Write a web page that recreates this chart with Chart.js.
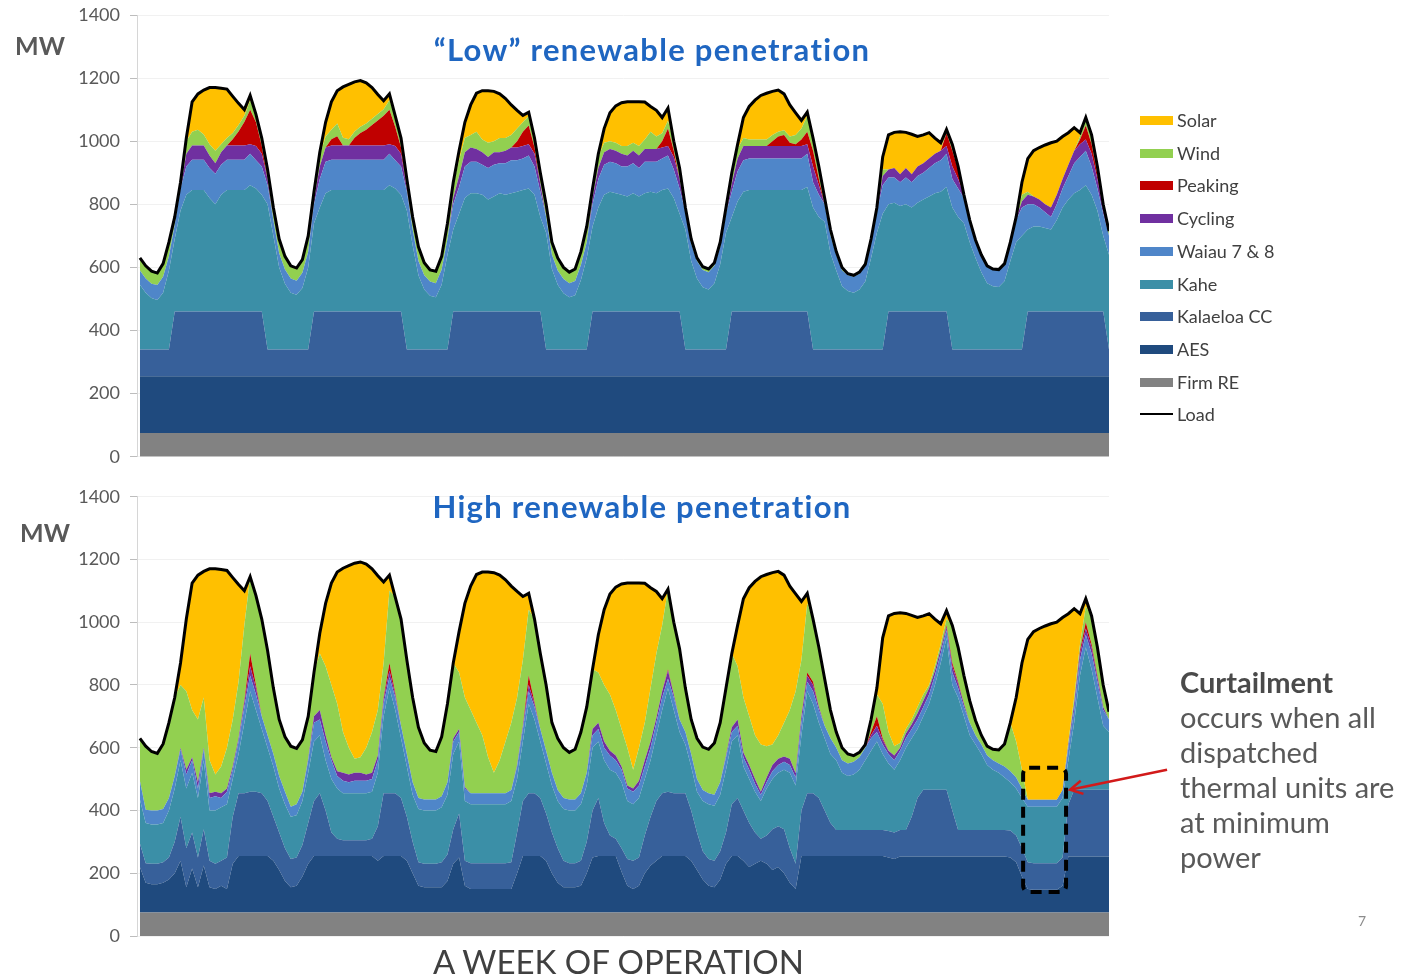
<!DOCTYPE html>
<html><head><meta charset="utf-8">
<script src="https://cdn.jsdelivr.net/npm/chart.js@4.4.1/dist/chart.umd.min.js"></script>
<style>
body{margin:0;background:#fff;}
#page{position:relative;width:1405px;height:977px;overflow:hidden;background:#fff;font-family:Lato,'Open Sans',sans-serif;}
canvas{position:absolute;left:0;}
.t{position:absolute;white-space:nowrap;line-height:1;}
.mw{font-size:25px;color:#595959;font-weight:700;}
.title{font-size:31px;letter-spacing:1.3px;font-weight:700;color:#1f66c1;transform:translateX(-50%);}
.lg{position:absolute;left:1140px;font-size:18px;color:#404040;line-height:20px;height:20px;white-space:nowrap;}
.lg i{position:absolute;left:0;top:6px;width:33px;height:9px;}
.lg span{position:absolute;left:37px;top:0;white-space:nowrap;}
</style></head><body>
<div id="page">
<canvas id="lowChart" width="1405" height="502" style="top:-15px"></canvas>
<canvas id="highChart" width="1405" height="500" style="top:466px"></canvas>
<div class="t mw" style="left:15px;top:33px">MW</div>
<div class="t mw" style="left:20px;top:520px">MW</div>
<div class="t title" style="left:652px;top:34px">“Low” renewable penetration</div>
<div class="t title" style="left:642px;top:491px">High renewable penetration</div>
<div id="legend"></div>
<div class="t" style="left:1180px;top:664px;font-size:29px;line-height:35px;color:#595959"><b style="color:#4a4a4a">Curtailment</b><br>occurs when all<br>dispatched<br>thermal units are<br>at minimum<br>power</div>
<div class="t" style="left:433px;top:945px;font-size:33px;color:#404040">A WEEK OF OPERATION</div>
<div class="t" style="left:1358px;top:914px;font-size:14px;color:#8c8c8c">7</div>
</div>
<script>
// hourly index for one week (categories)
const HOURS = Array.from({length: 168}, (_, i) => i);

const LOAD = [
630,605,588,582,612,680,760,870,1010,1125,1150,1162,1170,1170,1168,1165,1142,1120,1100,1145,1085,1010,910,790,
690,635,605,598,625,700,840,965,1060,1125,1160,1172,1180,1188,1192,1185,1170,1148,1128,1150,1080,1010,880,760,
665,615,592,588,635,740,870,970,1060,1115,1152,1160,1160,1158,1150,1135,1115,1098,1082,1092,1010,900,800,680,
630,600,585,595,650,730,850,960,1040,1090,1112,1122,1125,1125,1125,1124,1110,1098,1075,1105,1000,915,790,690,
630,602,595,615,680,790,900,990,1075,1110,1130,1145,1152,1158,1162,1150,1115,1090,1066,1092,1010,920,820,720,
650,600,580,575,585,610,690,790,950,1020,1028,1030,1028,1022,1015,1020,1027,1010,995,1037,990,920,830,750,
687,640,605,595,593,612,680,760,870,945,970,980,988,995,1000,1015,1027,1043,1027,1075,1020,920,800,715];

// ---------- "Low" renewable penetration ----------
const LOW_FIRM_RE = [
75,75,75,75,75,75,75,75,75,75,75,75,75,75,75,75,75,75,75,75,75,75,75,75,
75,75,75,75,75,75,75,75,75,75,75,75,75,75,75,75,75,75,75,75,75,75,75,75,
75,75,75,75,75,75,75,75,75,75,75,75,75,75,75,75,75,75,75,75,75,75,75,75,
75,75,75,75,75,75,75,75,75,75,75,75,75,75,75,75,75,75,75,75,75,75,75,75,
75,75,75,75,75,75,75,75,75,75,75,75,75,75,75,75,75,75,75,75,75,75,75,75,
75,75,75,75,75,75,75,75,75,75,75,75,75,75,75,75,75,75,75,75,75,75,75,75,
75,75,75,75,75,75,75,75,75,75,75,75,75,75,75,75,75,75,75,75,75,75,75,75];
const LOW_AES = [
180,180,180,180,180,180,180,180,180,180,180,180,180,180,180,180,180,180,180,180,180,180,180,180,
180,180,180,180,180,180,180,180,180,180,180,180,180,180,180,180,180,180,180,180,180,180,180,180,
180,180,180,180,180,180,180,180,180,180,180,180,180,180,180,180,180,180,180,180,180,180,180,180,
180,180,180,180,180,180,180,180,180,180,180,180,180,180,180,180,180,180,180,180,180,180,180,180,
180,180,180,180,180,180,180,180,180,180,180,180,180,180,180,180,180,180,180,180,180,180,180,180,
180,180,180,180,180,180,180,180,180,180,180,180,180,180,180,180,180,180,180,180,180,180,180,180,
180,180,180,180,180,180,180,180,180,180,180,180,180,180,180,180,180,180,180,180,180,180,180,180];
const LOW_KALAELOA = [
85,85,85,85,85,85,205,205,205,205,205,205,205,205,205,205,205,205,205,205,205,205,85,85,
85,85,85,85,85,85,205,205,205,205,205,205,205,205,205,205,205,205,205,205,205,205,85,85,
85,85,85,85,85,85,205,205,205,205,205,205,205,205,205,205,205,205,205,205,205,205,85,85,
85,85,85,85,85,85,205,205,205,205,205,205,205,205,205,205,205,205,205,205,205,205,85,85,
85,85,85,85,85,85,205,205,205,205,205,205,205,205,205,205,205,205,205,205,85,85,85,85,
85,85,85,85,85,85,85,85,85,205,205,205,205,205,205,205,205,205,205,205,85,85,85,85,
85,85,85,85,85,85,85,85,85,205,205,205,205,205,205,205,205,205,205,205,205,205,205,85];
const LOW_KAHE = [
205,180,163,157,180,250,230,320,370,385,385,385,360,340,370,385,385,385,385,400,390,370,460,360,
260,208,180,173,195,260,280,330,375,385,385,385,385,385,385,385,385,385,385,400,390,370,440,330,
235,190,170,165,205,300,260,310,360,375,375,370,355,365,375,370,375,380,385,390,370,300,370,255,
205,178,165,172,220,290,270,330,370,380,375,370,365,375,365,375,380,375,385,390,360,310,380,280,
225,197,190,210,270,370,300,350,380,385,385,385,385,385,385,385,385,385,385,395,450,420,405,305,
250,200,185,180,190,215,290,370,430,340,345,335,340,330,345,355,365,375,380,395,450,420,400,340,
290,245,210,200,198,217,280,340,360,260,270,270,265,260,290,330,355,375,385,400,370,320,240,300];
const LOW_WAIAU = [
45,45,45,47,50,45,45,70,90,96,96,96,95,97,95,96,96,96,96,100,90,90,60,50,
45,45,45,45,48,50,60,90,100,96,96,96,96,96,96,96,96,96,96,100,90,90,60,50,
45,45,45,45,48,50,80,85,100,100,100,95,100,100,95,100,105,100,100,105,90,80,50,45,
45,45,45,45,48,50,70,90,95,95,95,90,95,95,90,100,95,100,100,105,90,80,55,55,
55,55,55,55,55,60,80,95,100,100,100,100,100,100,100,100,100,100,100,105,80,70,55,55,
50,50,50,50,50,50,55,65,90,85,80,75,85,80,85,85,90,95,100,105,90,90,80,70,
57,55,55,55,55,55,60,70,90,80,70,60,50,40,50,60,75,95,105,110,90,70,70,60];
const LOW_CYCLING = [
0,0,0,0,0,0,0,0,40,45,45,45,40,33,40,45,45,45,45,30,45,40,20,0,
0,0,0,0,0,0,15,40,45,45,45,45,45,45,45,45,45,45,45,30,45,40,10,0,
0,0,0,0,0,0,20,35,45,45,40,40,35,40,35,40,40,40,40,35,40,25,0,0,
0,0,0,0,0,0,20,35,40,40,40,40,35,40,40,40,40,40,35,30,40,30,0,0,
0,0,0,0,0,0,25,40,45,40,40,40,40,40,40,40,40,40,40,30,50,30,0,0,
0,0,0,0,0,0,0,0,30,25,30,25,30,25,30,30,30,30,30,25,40,30,10,0,
0,0,0,0,0,0,0,5,20,30,25,25,25,30,30,30,35,40,40,35,40,30,15,0];
const LOW_PEAKING = [
0,0,0,0,0,0,0,0,0,0,0,0,0,0,0,0,20,45,75,110,75,25,0,0,
0,0,0,0,0,0,0,0,0,20,30,0,0,25,40,50,65,80,95,110,60,20,0,0,
0,0,0,0,0,0,0,0,0,0,0,0,0,0,0,0,0,20,45,60,20,0,0,0,
0,0,0,0,0,0,0,0,0,0,0,0,0,0,0,0,0,0,20,55,20,0,0,0,
0,0,0,0,0,0,0,0,0,0,0,0,0,15,30,35,10,5,20,40,50,20,0,0,
0,0,0,0,0,0,0,0,0,0,0,0,0,0,0,0,0,0,0,40,50,30,0,0,
0,0,0,0,0,0,0,0,0,0,0,0,0,0,0,0,0,0,15,45,30,15,0,0];
const LOW_WIND = [
40,40,40,38,42,45,25,20,40,44,50,35,35,40,25,24,20,20,20,30,25,25,30,40,
45,42,40,40,42,50,25,35,35,30,40,25,20,20,20,20,20,20,20,30,35,30,30,40,
45,40,37,38,42,50,40,50,45,40,55,40,45,35,45,40,40,40,30,30,30,35,40,40,
40,37,35,38,42,50,30,35,30,25,25,25,30,25,30,30,55,40,25,25,30,35,15,15,
10,10,10,10,15,20,35,30,25,20,20,20,20,20,15,15,20,30,35,50,40,40,20,20,
10,10,5,5,5,5,5,15,20,0,0,0,0,0,0,0,0,0,0,12,20,10,0,0,
0,0,0,0,0,0,0,5,20,10,0,0,0,0,0,0,0,0,10,20,30,25,15,15];
const LOW_SOLAR = [
0,0,0,0,0,0,0,0,10,95,114,141,180,200,178,155,116,69,19,15,0,0,0,0,
0,0,0,0,0,0,0,10,45,89,104,161,174,157,146,129,99,62,27,20,0,0,0,0,
0,0,0,0,0,0,10,30,50,95,122,155,165,158,140,125,95,58,22,12,0,0,0,0,
0,0,0,0,0,0,0,10,45,90,117,137,140,130,140,119,80,83,50,40,0,0,0,0,
0,0,0,0,0,0,0,15,65,105,125,140,147,138,132,115,100,70,26,12,0,0,0,0,
0,0,0,0,0,0,0,0,40,110,113,135,113,127,95,90,82,50,25,0,0,0,0,0,
0,0,0,0,0,0,0,0,40,105,145,165,188,205,170,135,102,73,12,5,0,0,0,0];

// ---------- High renewable penetration ----------
const HIGH_FIRM_RE = [
75,75,75,75,75,75,75,75,75,75,75,75,75,75,75,75,75,75,75,75,75,75,75,75,
75,75,75,75,75,75,75,75,75,75,75,75,75,75,75,75,75,75,75,75,75,75,75,75,
75,75,75,75,75,75,75,75,75,75,75,75,75,75,75,75,75,75,75,75,75,75,75,75,
75,75,75,75,75,75,75,75,75,75,75,75,75,75,75,75,75,75,75,75,75,75,75,75,
75,75,75,75,75,75,75,75,75,75,75,75,75,75,75,75,75,75,75,75,75,75,75,75,
75,75,75,75,75,75,75,75,75,75,75,75,75,75,75,75,75,75,75,75,75,75,75,75,
75,75,75,75,75,75,75,75,75,75,75,75,75,75,75,75,75,75,75,75,75,75,75,75];
const HIGH_AES = [
145,95,90,90,95,105,125,165,80,140,80,150,80,75,85,75,155,180,180,180,180,180,180,165,
135,100,80,85,115,155,180,180,180,180,180,180,180,180,180,180,180,165,180,180,180,180,165,125,
85,80,80,80,80,100,155,175,85,75,75,75,75,75,75,75,75,125,180,180,180,180,165,125,
95,80,80,80,85,125,175,180,180,180,180,130,85,75,85,125,150,165,180,180,180,180,180,165,
135,105,85,80,105,155,180,180,165,145,155,165,155,135,145,125,95,75,180,180,180,180,180,180,
180,180,180,180,180,180,180,180,180,175,170,178,178,178,178,178,178,178,178,178,178,178,178,178,
178,178,178,178,178,178,175,160,115,75,72,72,72,72,72,85,178,178,178,178,178,178,178,178];
const HIGH_KALAELOA = [
75,62,65,65,65,70,100,140,125,115,95,115,85,80,80,100,150,200,200,205,205,200,175,140,
120,105,90,90,100,130,175,200,145,75,55,50,50,50,50,50,55,110,200,200,200,185,140,100,
75,75,75,75,80,85,110,140,80,82,82,82,82,82,82,82,85,130,175,200,200,185,150,130,
110,85,77,77,80,100,150,185,105,65,55,75,85,90,90,120,155,190,200,205,200,200,200,160,
120,90,85,85,90,100,165,185,160,140,100,70,90,130,130,140,110,80,145,200,200,185,145,105,
83,83,83,83,83,83,83,83,83,85,85,85,85,127,187,213,213,213,213,213,147,85,85,85,
85,85,85,85,85,85,86,85,90,85,85,85,85,85,85,90,167,213,213,213,213,213,213,213];
const HIGH_KAHE = [
140,128,125,125,125,150,170,180,190,190,190,220,160,170,170,170,120,125,225,320,260,205,170,160,
140,140,135,135,140,160,190,185,160,170,160,150,150,150,150,150,150,170,245,335,265,190,160,150,
170,170,170,170,175,190,240,230,190,188,188,188,188,188,188,188,195,170,190,285,235,180,160,150,
150,165,168,168,180,180,200,180,200,210,210,210,185,180,190,180,180,210,265,330,265,195,155,140,
130,160,175,175,180,200,200,200,140,140,130,120,150,160,170,190,240,250,240,325,285,240,230,220,
222,182,172,177,192,222,252,282,242,215,200,222,262,250,220,234,274,334,404,484,400,422,362,302,
272,242,207,192,182,167,154,150,160,177,180,180,180,180,180,190,140,214,364,454,384,294,204,184];
const HIGH_WAIAU = [
60,42,45,45,45,40,40,35,45,40,30,35,40,45,30,40,30,40,50,50,50,40,40,40,
40,40,32,35,30,40,60,50,60,60,40,40,35,40,40,40,40,40,40,35,40,40,40,40,
35,35,35,35,35,40,40,30,40,35,35,35,35,35,35,35,35,40,40,40,40,40,40,40,
35,35,35,35,35,40,40,40,40,45,40,40,40,40,40,40,40,40,40,30,40,40,40,40,
40,35,35,35,40,40,30,30,30,30,25,20,20,25,25,25,25,25,40,30,40,40,40,50,
40,40,40,40,40,40,40,30,30,30,30,30,30,30,30,30,30,30,30,25,40,30,30,40,
30,30,30,30,30,35,35,35,30,22,22,22,22,22,22,25,40,40,50,40,50,50,50,40];
const HIGH_CYCLING = [
0,0,0,0,0,0,0,5,15,10,20,5,15,15,15,10,10,10,15,30,20,0,0,0,
0,0,0,0,0,5,20,30,20,10,15,25,25,25,25,20,20,15,15,20,10,0,0,0,
0,0,0,0,0,0,10,10,5,0,0,0,0,0,0,0,0,5,10,20,10,0,0,0,
0,0,0,0,0,0,20,20,20,15,15,10,10,10,15,20,20,15,20,25,10,0,0,0,
0,0,0,0,0,5,15,20,15,15,15,10,15,20,20,17,20,14,20,20,20,10,0,0,
0,0,0,0,0,0,10,20,15,10,15,10,15,15,20,20,20,15,15,10,20,15,10,0,
0,0,0,0,0,0,0,0,0,0,0,0,0,0,0,0,10,20,20,20,20,15,10,0];
const HIGH_PEAKING = [
0,0,0,0,0,0,0,0,0,0,0,0,0,0,0,0,0,0,5,40,10,0,0,0,
0,0,0,0,0,0,0,0,0,0,0,0,0,0,0,0,0,0,5,25,5,0,0,0,
0,0,0,0,0,0,0,0,0,0,0,0,0,0,0,0,0,0,0,30,5,0,0,0,
0,0,0,0,0,0,0,0,0,0,0,0,0,0,0,0,0,0,0,5,0,0,0,0,
0,0,0,0,0,0,0,0,0,0,0,0,0,0,0,0,0,0,0,10,10,0,0,0,
0,0,0,0,0,0,10,30,5,0,0,0,0,0,0,0,0,0,0,5,10,5,0,0,
0,0,0,0,0,0,0,0,0,0,0,0,0,0,0,0,0,0,10,20,10,5,0,0];
const HIGH_WIND = [
135,203,188,182,207,240,250,200,250,150,200,160,105,55,85,130,150,180,240,245,285,310,270,210,
180,175,193,178,165,135,140,180,220,230,215,130,85,45,50,85,130,145,110,230,305,340,300,270,
225,180,157,153,190,250,240,180,285,265,225,185,115,65,105,165,215,215,210,210,265,240,210,160,
165,160,150,160,195,210,190,160,180,180,145,120,120,60,105,120,170,205,210,255,230,225,140,110,
130,137,140,165,190,215,235,170,175,155,140,150,100,65,75,108,155,261,180,220,200,190,150,90,
50,40,30,20,15,10,40,70,110,60,30,15,15,15,20,20,10,15,15,20,120,110,90,70,
47,30,30,35,43,72,155,115,60,0,0,0,0,0,0,0,10,20,20,50,90,90,70,25];
const HIGH_SOLAR = [
0,0,0,0,0,0,0,70,230,405,460,402,610,655,628,565,452,310,110,0,0,0,0,0,
0,0,0,0,0,0,0,65,200,325,420,522,580,623,622,585,520,428,258,50,0,0,0,0,
0,0,0,0,0,0,0,130,300,395,472,520,590,638,590,515,435,338,202,52,0,0,0,0,
0,0,0,0,0,0,0,120,240,320,392,462,525,595,525,444,320,198,85,0,0,0,0,0,
0,0,0,0,0,0,0,130,315,410,490,535,547,548,522,470,395,310,186,32,0,0,0,0,
0,0,0,0,0,0,0,20,210,370,423,415,368,332,285,250,227,150,65,27,0,0,0,0,
0,0,0,0,0,0,0,140,340,511,536,546,554,561,566,550,407,283,97,25,0,0,0,0];

const Y_TICKS = [0, 200, 400, 600, 800, 1000, 1200, 1400];
// curtailment window (hours, MW) and arrow target (MW)
const BOX_HOURS = [152.2, 159.6];
const BOX_MW = [140, 536];
const ARROW_MW = 466;

const SERIES = [
  {label: 'Firm RE', color: '#828282', key: 'firm'},
  {label: 'AES', color: '#1f4a7e', key: 'aes'},
  {label: 'Kalaeloa CC', color: '#37609a', key: 'kal'},
  {label: 'Kahe', color: '#3b8fa7', key: 'kahe'},
  {label: 'Waiau 7 & 8', color: '#4f86c9', key: 'waiau'},
  {label: 'Cycling', color: '#7030a0', key: 'cyc'},
  {label: 'Peaking', color: '#c00000', key: 'peak'},
  {label: 'Wind', color: '#92d050', key: 'wind'},
  {label: 'Solar', color: '#ffc000', key: 'solar'}
];

function datasets(d) {
  const ds = SERIES.map((s, i) => ({
    label: s.label,
    data: d[s.key],
    backgroundColor: s.color,
    borderWidth: 0,
    pointRadius: 0,
    tension: 0,
    fill: i === 0 ? 'origin' : '-1'
  }));
  ds.push({
    label: 'Load', data: LOAD, stack: 'load', order: -1,
    borderColor: '#000', borderWidth: 3, pointRadius: 0, fill: false, tension: 0
  });
  return ds;
}

function options(padTop, padBottom) {
  return {
    responsive: false, animation: false, devicePixelRatio: 1,
    layout: {padding: {top: padTop, bottom: padBottom, left: 0, right: 296}},
    plugins: {legend: {display: false}, tooltip: {enabled: false}},
    scales: {
      x: {type: 'linear', min: -0.5, max: 167, display: false},
      y: {
        stacked: true, min: 0, max: 1400,
        afterBuildTicks: (sc) => { sc.ticks = Y_TICKS.map(v => ({value: v})); },
        afterFit: (sc) => { sc.width = 137; },
        ticks: {color: '#595959', font: {family: 'Lato', size: 18}, padding: 10,
                callback: (v) => String(v)},
        grid: {color: '#f1f1f1', tickColor: '#bdbdbd', tickLength: 7},
        border: {color: '#d6d6d6', width: 1}
      }
    }
  };
}

const curtailBox = {
  id: 'curtailBox',
  afterDatasetsDraw(chart) {
    const {ctx} = chart; const x = chart.scales.x, y = chart.scales.y;
    const x0 = x.getPixelForValue(BOX_HOURS[0]), x1 = x.getPixelForValue(BOX_HOURS[1]);
    const y0 = y.getPixelForValue(BOX_MW[1]), y1 = y.getPixelForValue(BOX_MW[0]);
    ctx.save();
    ctx.setLineDash([11, 7]); ctx.lineWidth = 4; ctx.strokeStyle = '#000';
    ctx.beginPath();
    if (ctx.roundRect) ctx.roundRect(x0, y0, x1 - x0, y1 - y0, 6); else ctx.rect(x0, y0, x1 - x0, y1 - y0);
    ctx.stroke();
    ctx.setLineDash([]); ctx.strokeStyle = '#d21a1a'; ctx.lineWidth = 2.5;
    const hx = x1 + 4, hy = y.getPixelForValue(ARROW_MW);
    const tx = hx + 97, ty = hy - 20;
    ctx.beginPath(); ctx.moveTo(tx, ty); ctx.lineTo(hx, hy); ctx.stroke();
    const a = Math.atan2(ty - hy, tx - hx);
    ctx.beginPath();
    ctx.moveTo(hx + 14 * Math.cos(a + 0.5), hy + 14 * Math.sin(a + 0.5));
    ctx.lineTo(hx, hy);
    ctx.lineTo(hx + 14 * Math.cos(a - 0.5), hy + 14 * Math.sin(a - 0.5));
    ctx.stroke();
    ctx.restore();
  }
};

// top chart: plot area y 15..456.7 ; bottom chart: plot area y 496.7..936
new Chart(document.getElementById('lowChart'), {
  type: 'line',
  data: {labels: HOURS, datasets: datasets({
    firm: LOW_FIRM_RE, aes: LOW_AES, kal: LOW_KALAELOA, kahe: LOW_KAHE, waiau: LOW_WAIAU,
    cyc: LOW_CYCLING, peak: LOW_PEAKING, wind: LOW_WIND, solar: LOW_SOLAR})},
  options: options(30, 30.3)
});

new Chart(document.getElementById('highChart'), {
  type: 'line',
  data: {labels: HOURS, datasets: datasets({
    firm: HIGH_FIRM_RE, aes: HIGH_AES, kal: HIGH_KALAELOA, kahe: HIGH_KAHE, waiau: HIGH_WAIAU,
    cyc: HIGH_CYCLING, peak: HIGH_PEAKING, wind: HIGH_WIND, solar: HIGH_SOLAR})},
  options: options(30.7, 30),
  plugins: [curtailBox]
});

// HTML legend
const LEGEND_ORDER = ['Solar', 'Wind', 'Peaking', 'Cycling', 'Waiau 7 & 8', 'Kahe', 'Kalaeloa CC', 'AES', 'Firm RE', 'Load'];
const lg = document.getElementById('legend');
LEGEND_ORDER.forEach((name, i) => {
  const s = SERIES.find(v => v.label === name);
  const row = document.createElement('div');
  row.className = 'lg';
  row.style.top = (110 + i * 32.7) + 'px';
  const sw = document.createElement('i');
  if (s) { sw.style.background = s.color; }
  else { sw.style.background = '#000'; sw.style.height = '2px'; sw.style.top = '9px'; }
  const tx = document.createElement('span');
  tx.textContent = name;
  row.appendChild(sw); row.appendChild(tx);
  lg.appendChild(row);
});
</script>
</body></html>
